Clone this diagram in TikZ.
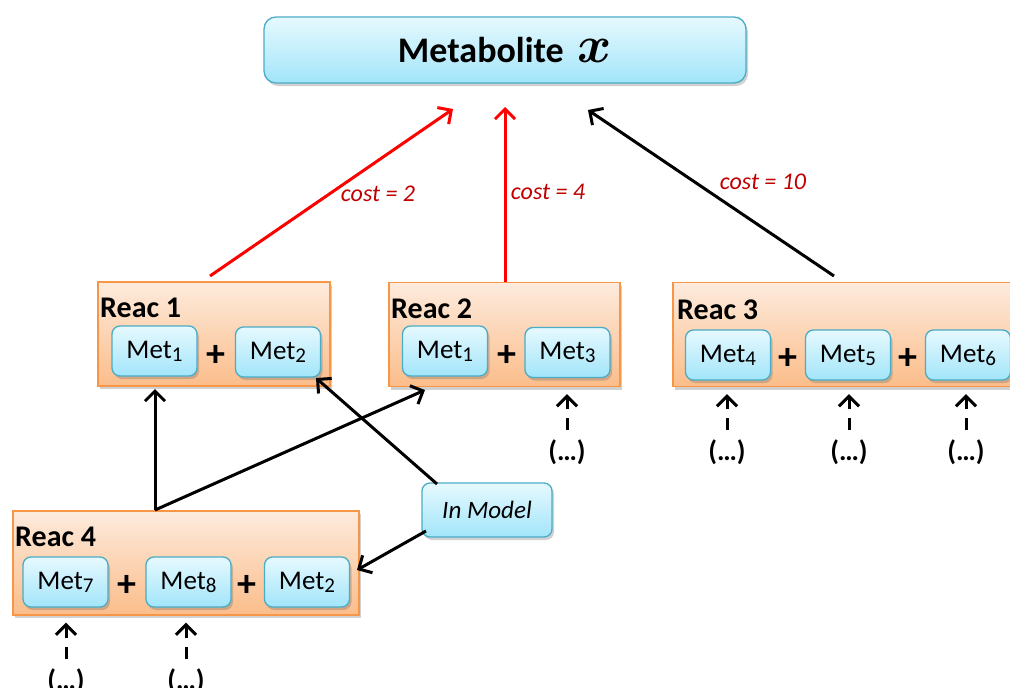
\documentclass[tikz,border=0pt]{standalone}
\usepackage{fix-cm}
\usepackage{fontspec}
\setmainfont{Carlito}
\usetikzlibrary{arrows.meta,shadows}
\definecolor{metborder}{HTML}{4BACC6}
\definecolor{mettop}{HTML}{E6F9FE}
\definecolor{metbot}{HTML}{A2E5FA}
\definecolor{reacborder}{HTML}{F79646}
\definecolor{reactop}{HTML}{FDEBDD}
\definecolor{reacbot}{HTML}{FBBD8A}
\definecolor{costred}{HTML}{C00000}
\newcommand\metlab[1]{Met\raisebox{-3pt}{\fontsize{21}{21}\selectfont #1}}
\tikzset{
  shade box/.style={drop shadow={shadow xshift=2pt, shadow yshift=-3pt, opacity=0.3, fill=black!60}},
  metbox/.style={shade box, draw=metborder, line width=1.3pt, rounded corners=8pt,
    top color=mettop, bottom color=metbot, minimum width=85pt, minimum height=50pt,
    inner sep=0pt, font=\fontsize{27}{30}\selectfont},
  reacbox/.style={shade box, draw=reacborder, line width=1.3pt, top color=reactop,
    bottom color=reacbot, inner sep=0pt, minimum height=104pt},
  reaclab/.style={anchor=west, inner sep=0pt, font=\fontsize{30}{32}\selectfont\bfseries},
  plus/.style={inner sep=0pt, font=\fontsize{38}{38}\selectfont\bfseries},
  dots/.style={inner sep=0pt, font=\fontsize{28}{28}\selectfont\bfseries},
  costlab/.style={inner sep=0pt, text=costred, font=\fontsize{24}{26}\selectfont\itshape},
  arr/.style={line width=3pt, -{Straight Barb[length=10pt,width=20pt]}},
  darr/.style={line width=3pt, dash pattern=on 12pt off 9pt on 40pt off 10pt, -{Straight Barb[length=10pt,width=20pt]}},
}
\begin{document}
\begin{tikzpicture}[x=1pt,y=-1pt]
\useasboundingbox (0,0) rectangle (1010,688);

% Top metabolite
\node[shade box, draw=metborder, line width=1.3pt, rounded corners=12pt, top color=mettop,
  bottom color=metbot, minimum width=482pt, minimum height=66pt, inner sep=0pt,
  font=\fontsize{36}{40}\selectfont\bfseries] (mx) at (505,50)
  {Metabolite\hspace{14pt}{\fontsize{52}{52}\selectfont\boldmath$x$}};

% Reaction boxes
\node[reacbox, minimum width=232pt] (r1) at (214,334) {};
\node[reacbox, minimum width=231pt] (r2) at (504.5,334.5) {};
\node[reacbox, minimum width=350pt] (r3) at (848,334.5) {};
\node[reacbox, minimum width=346pt] (r4) at (186,563) {};

\node[reaclab] (l1) at (100,308) {Reac 1};
\node[reaclab] (l2) at (391,309) {Reac 2};
\node[reaclab] (l3) at (677,310) {Reac 3};
\node[reaclab] (l4) at (15,537) {Reac 4};

% Metabolite boxes
\node[metbox] (m11) at (154.5,351) {\metlab{1}};
\node[plus]   (p11) at (216,356) {+};
\node[metbox] (m12) at (278,352) {\metlab{2}};

\node[metbox] (m21) at (445,351) {\metlab{1}};
\node[plus]   (p21) at (507,356) {+};
\node[metbox] (m23) at (567.5,352.5) {\metlab{3}};

\node[metbox] (m34) at (728,355) {\metlab{4}};
\node[plus]   (p31) at (788,359) {+};
\node[metbox] (m35) at (848,355) {\metlab{5}};
\node[plus]   (p32) at (908,359) {+};
\node[metbox] (m36) at (968,355) {\metlab{6}};

\node[metbox] (m47) at (65.5,582) {\metlab{7}};
\node[plus]   (p41) at (127,586) {+};
\node[metbox] (m48) at (188.5,582) {\metlab{8}};
\node[plus]   (p42) at (247,586) {+};
\node[metbox] (m42) at (307,582) {\metlab{2}};

% In Model
\node[metbox, minimum width=130pt, minimum height=54pt, font=\fontsize{25}{28}\selectfont\itshape] (im) at (487,510) {In Model};

% Arrows to the top metabolite
\coordinate (t1) at (453,109);
\coordinate (t2) at (505,107);
\coordinate (t3) at (588,110);
\coordinate (s1) at (210,276);
\coordinate (s3) at (834,276);
\draw[arr, red] (s1) -- (t1);
\draw[arr, red] (r2.north -| t2) -- (t2);
\draw[arr] (s3) -- (t3);
\node[costlab] (c1) at (378,194) {cost = 2};
\node[costlab] (c2) at (548,192) {cost = 4};
\node[costlab] (c3) at (763,182) {cost = 10};

% Reac 4 to Reac 1 and Reac 2
\coordinate (j) at (155,510);
\coordinate (r1in) at (155,389);
\coordinate (r2in) at (425,390);
\draw[arr] (j) -- (r1in);
\draw[arr] (j) -- (r2in);

% In Model arrows
\coordinate (ima) at (437,484);
\coordinate (imb) at (426,531);
\coordinate (m12in) at (316,378);
\coordinate (r4in) at (357,570);
\draw[arr] (ima) -- (m12in);
\draw[arr] (imb) -- (r4in);

% Dashed arrows from (...)
\node[dots] (d23) at (567,452) {(…)};
\node[dots] (d34) at (727,452) {(…)};
\node[dots] (d35) at (849,452) {(…)};
\node[dots] (d36) at (966,452) {(…)};
\node[dots] (d47) at (66,681) {(…)};
\node[dots] (d48) at (186,681) {(…)};
\foreach \d/\r in {d23/r2, d34/r3, d35/r3, d36/r3, d47/r4, d48/r4}{
  \draw[darr] ([yshift=9pt]\d.north) -- ([yshift=-7pt]\d.north |- \r.south);
}
\end{tikzpicture}
\end{document}
